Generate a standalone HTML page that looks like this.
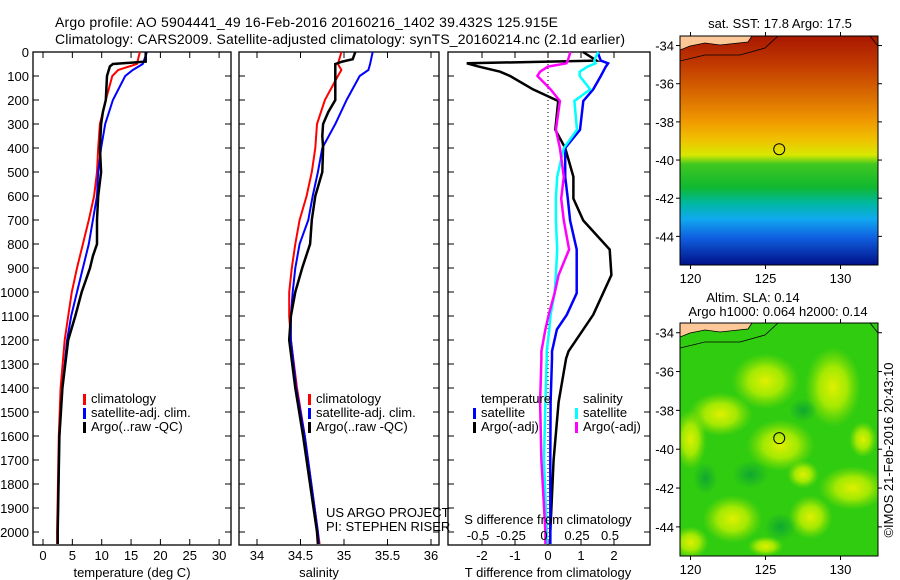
<!DOCTYPE html>
<html><head><meta charset="utf-8"><style>
html,body{margin:0;padding:0;background:#fff;}
svg{display:block;font-family:"Liberation Sans",sans-serif;}
</style></head><body>
<svg id="fig" width="900" height="580" viewBox="0 0 900 580" xmlns="http://www.w3.org/2000/svg">
<defs>
<linearGradient id="sstGrad" x1="0" y1="0" x2="0" y2="1">
<stop offset="0" stop-color="#a81800"/><stop offset="0.12" stop-color="#c03800"/>
<stop offset="0.25" stop-color="#d86800"/><stop offset="0.37" stop-color="#f09800"/>
<stop offset="0.45" stop-color="#f0c000"/><stop offset="0.52" stop-color="#d8e800"/>
<stop offset="0.56" stop-color="#40c820"/><stop offset="0.66" stop-color="#10b830"/>
<stop offset="0.73" stop-color="#00b8a0"/><stop offset="0.8" stop-color="#10a8f0"/>
<stop offset="0.88" stop-color="#1060e0"/><stop offset="1" stop-color="#001088"/>
</linearGradient>
<radialGradient id="yb"><stop offset="0" stop-color="#e0f000"/><stop offset="0.5" stop-color="#b8ee00" stop-opacity="0.85"/><stop offset="1" stop-color="#90e000" stop-opacity="0"/></radialGradient>
<radialGradient id="gb"><stop offset="0" stop-color="#10a830"/><stop offset="1" stop-color="#10a830" stop-opacity="0"/></radialGradient>
</defs>
<text x="55" y="27" font-size="14" textLength="503">Argo profile: AO 5904441_49 16-Feb-2016 20160216_1402 39.432S 125.915E</text>
<text x="55" y="44" font-size="14" textLength="570">Climatology: CARS2009. Satellite-adjusted climatology: synTS_20160214.nc (2.1d earlier)</text>
<g id="panels"></g>
<g id="maps"></g>
</svg>
<script>
// ---- data (depth in dbar) ----
const climDepth = [0,50,75,100,200,300,400,500,600,700,800,900,1000,1100,1200,1400,1600,2000,2050];
const climTemp  = [16.5,16,12.8,11.8,10.7,9.7,9.4,9.2,8.7,7.8,6.8,5.8,4.9,4.3,3.7,3.0,2.7,2.4,2.4];
const satTemp   = [17.7,17,15.3,14,11.9,10.6,9.9,9.4,9.2,8.5,7.8,6.8,5.8,4.8,4.1,3.3,2.8,2.5,2.5];
const argoTDepth = [0,40,50,60,100,200,250,300,400,500,600,700,800,850,900,950,1000,1100,1200,1300,1400,1600,2000,2050];
const argoTemp   = [17.5,17.5,11.9,11.4,10.9,10.7,10.2,9.9,9.7,9.9,9.4,9.2,9.2,8.5,8,7.3,6.6,5.5,4.3,3.8,3.3,2.8,2.5,2.5];
const climSal = [34.97,34.93,34.97,34.93,34.78,34.69,34.67,34.63,34.57,34.49,34.44,34.40,34.37,34.37,34.39,34.46,34.55,34.70,34.72];
const satSal  = [35.33,35.30,35.28,35.18,35.03,34.9,34.75,34.70,34.64,34.59,34.49,34.44,34.41,34.39,34.39,34.45,34.55,34.70,34.71];
const argoSDepth = [0,30,40,50,100,200,250,300,350,400,500,600,700,800,900,1000,1100,1200,1400,1600,2000,2050];
const argoSal    = [35.13,35.10,34.98,34.9,34.9,34.9,34.82,34.76,34.75,34.76,34.75,34.67,34.63,34.61,34.52,34.44,34.39,34.37,34.44,34.53,34.69,34.70];
const diffDepth = [0,36,47,61,82,100,156,204,324,400,520,611,702,823,929,1005,1095,1156,1247,1277,1459,1700,2000,2050];
const diffTArgo = [1.06,1.47,-2.46,-2.1,-1.45,-1.15,-0.45,0.31,0.22,0.52,0.77,0.77,1.07,1.87,1.92,1.67,1.37,1.07,0.62,0.55,0.32,0.17,0.07,0.07];
const diffTSat  = [1.5,1.6,1.82,1.75,1.67,1.6,1.37,1.07,0.97,0.52,0.52,0.6,0.67,0.87,0.87,0.87,0.57,0.27,0.12,0.12,0.08,0.07,0.07,0.07];
const diffSSat  = [0.38,0.35,0.36,0.30,0.24,0.24,0.32,0.20,0.22,0.12,0.07,0.06,0.06,0.07,0.06,0.05,0.02,0.01,-0.01,-0.01,-0.02,-0.03,-0.01,-0.01];
const diffSArgo = [0.17,0.15,0.14,0.0,-0.06,-0.08,0.02,0.09,0.06,0.09,0.12,0.10,0.12,0.16,0.08,0.05,0.005,-0.02,-0.05,-0.05,-0.06,-0.05,-0.02,-0.02];
const depthTicks = [0,100,200,300,400,500,600,700,800,900,1000,1100,1200,1300,1400,1500,1600,1700,1800,1900,2000];
const tempTicks = [0,5,10,15,20,25,30];
const salTicks = [34,34.5,35,35.5,36];
const tdTicks = [-2,-1,0,1,2];
const sdTicks = [-0.5,-0.25,0,0.25,0.5];
const sdTickLabels = ["-0.5","-0.25","0","0.25","0.5"];

const NS="http://www.w3.org/2000/svg";
const P=document.getElementById('panels');
function mk(tag,at,parent){const e=document.createElementNS(NS,tag);for(const k in at)e.setAttribute(k,at[k]);(parent||P).appendChild(e);return e;}
const TOP=52, BOT=545;
const yD = d => TOP + d*0.24;
const xT = t => 43 + t*5.87;
const xS = s => 257 + (s-34)*87;
const xTD = t => 548 + t*33;
const xSD = s => 548 + s*132;

function panel(x0,x1,name){
  const r=mk('rect',{x:x0,y:TOP,width:x1-x0,height:BOT-TOP,fill:'none',stroke:'#000','stroke-width':1.3});
  
  
  depthTicks.forEach(d=>{
    mk('line',{x1:x0,x2:x0+6,y1:yD(d),y2:yD(d),stroke:'#000'});
    mk('line',{x1:x1-6,x2:x1,y1:yD(d),y2:yD(d),stroke:'#000'});
  });
}
function xticks(vals,fx){vals.forEach(v=>{const x=fx(v);mk('line',{x1:x,x2:x,y1:TOP,y2:TOP+6,stroke:'#000'});mk('line',{x1:x,x2:x,y1:BOT-6,y2:BOT,stroke:'#000'});});}
function line(depths,vals,fx,color,w,name){
  let pts=depths.map((d,i)=>fx(vals[i]).toFixed(1)+','+yD(d).toFixed(1)).join(' ');
  const l=mk('polyline',{points:pts,fill:'none',stroke:color,'stroke-width':w});
  
  
}
function txt(x,y,s,sz,anchor,name){const t=mk('text',{x:x,y:y,'font-size':sz,'text-anchor':anchor||'start'});t.textContent=s;
  
  
  return t;}

depthTicks.forEach(d=>{txt(29,yD(d)+5,String(d),13,'end','depth-tick-label');});

panel(33,231,'temperature-panel');
xticks(tempTicks,xT);
tempTicks.forEach(v=>txt(xT(v),560,String(v),13,'middle','temperature-tick-label'));
txt(132,577,'temperature (deg C)',13,'middle','temperature-axis-title');
line(climDepth,climTemp,xT,'#f00',2,'climatology-temp-line');
line(climDepth,satTemp,xT,'#00f',2,'satellite-temp-line');
line(argoTDepth,argoTemp,xT,'#000',2.5,'argo-temp-line');

panel(239,439,'salinity-panel');
xticks(salTicks,xS);
salTicks.forEach(v=>txt(xS(v),560,String(v),13,'middle','salinity-tick-label'));
txt(319,577,'salinity',13,'middle','salinity-axis-title');
line(climDepth,climSal,xS,'#f00',2,'climatology-sal-line');
line(climDepth,satSal,xS,'#00f',2,'satellite-sal-line');
line(argoSDepth,argoSal,xS,'#000',2.5,'argo-sal-line');

function leg(x,y,color,label,name){mk('rect',{x:x,y:y-9,width:3,height:11,fill:color});txt(x+8,y,label,13,'start',name);}
[[33+50,'temperature'],[239+69,'salinity']].forEach(([lx,n])=>{
  leg(lx,403,'#f00','climatology','legend-climatology-'+n);
  leg(lx,417,'#00f','satellite-adj. clim.','legend-satellite-'+n);
  leg(lx,431,'#000','Argo(..raw -QC)','legend-argo-'+n);
});
txt(326,517,'US ARGO PROJECT',13,'start','credit-project');
txt(326,531,'PI: STEPHEN RISER',13,'start','credit-pi');

panel(448,650,'difference-panel');
xticks(tdTicks,xTD);
mk('line',{x1:548,x2:548,y1:TOP,y2:BOT,stroke:'#000','stroke-dasharray':'1,3'});
line(diffDepth,diffTArgo,xTD,'#000',2.5,'argo-temp-diff-line');
line(diffDepth,diffTSat,xTD,'#00f',2.5,'satellite-temp-diff-line');
line(diffDepth,diffSSat,xSD,'#0ff',2.5,'satellite-sal-diff-line');
line(diffDepth,diffSArgo,xSD,'#f0f',2.5,'argo-sal-diff-line');
tdTicks.forEach(v=>txt(xTD(v),560,String(v),13,'middle','tdiff-tick-label'));
txt(548,577,'T difference from climatology',13,'middle','tdiff-axis-title');
sdTicks.forEach((v,i)=>txt(xSD(v)-4,540,sdTickLabels[i],13,'middle','sdiff-tick-label'));
txt(548,524,'S difference from climatology',13,'middle','sdiff-axis-title');
txt(481,403,'temperature',13,'start','legend-temperature-header');
leg(473,417,'#00f','satellite','legend-temp-satellite');
leg(473,431,'#000','Argo(-adj)','legend-temp-argo');
txt(583,403,'salinity',13,'start','legend-salinity-header');
leg(575,417,'#0ff','satellite','legend-sal-satellite');
leg(575,431,'#f0f','Argo(-adj)','legend-sal-argo');

// ---- maps ----
const M=document.getElementById('maps');
const latTicks=[-34,-36,-38,-40,-42,-44];
const lonTicks=[120,125,130];
function map(y0,y1,kind){
  const x0=680,x1=878;
  const lx=l=>x0+(l-119.3)/(132.5-119.3)*(x1-x0);
  const ly=l=>y0+(-33.5-l)/12*(y1-y0);
  const g=mk('g',{},M);
  
  
  const cp=mk('clipPath',{id:'clip-'+kind},g);
  mk('rect',{x:x0,y:y0,width:x1-x0,height:y1-y0},cp);
  const inner=mk('g',{'clip-path':'url(#clip-'+kind+')'},g);
  if(kind==='sst'){
    mk('rect',{x:x0,y:y0,width:x1-x0,height:y1-y0,fill:'url(#sstGrad)'},inner);
  } else {
    mk('rect',{x:x0,y:y0,width:x1-x0,height:y1-y0,fill:'#30cc10'},inner);
    [[125,-36.5,34,28],[129.5,-36.8,28,40],[122,-38.2,32,22],[126,-39.8,34,26],[120,-39.5,16,30],[130.8,-42,34,22],[122.8,-43.6,30,24],[128,-43.5,22,22],[120,-44.8,18,16],[127.5,-41.3,16,14],[131.5,-39.5,14,18],[125,-45,18,10]].forEach(b=>
      mk('ellipse',{cx:lx(b[0]),cy:ly(b[1]),rx:b[2],ry:b[3],fill:'url(#yb)'},inner));
    [[126,-44,16,14],[124,-41.3,18,14],[121,-41.5,12,16],[127.5,-38,14,12]].forEach(b=>mk('ellipse',{cx:lx(b[0]),cy:ly(b[1]),rx:b[2],ry:b[3],fill:'url(#gb)'},inner));
  }
  mk('path',{d:`M${x0},${y0} L${x0+72},${y0} L${x0+68},${y0+6} L${x0+40},${y0+9} L${x0+25},${y0+7} L${x0+10},${y0+10} L${x0},${y0+14} Z`,fill:'#fcc898'},inner);
  mk('path',{d:`M${x0},${y0+14} L${x0+10},${y0+10} L${x0+25},${y0+7} L${x0+40},${y0+9} L${x0+68},${y0+6} L${x0+72},${y0}`,fill:'none',stroke:'#000','stroke-width':0.8},inner);
  mk('path',{d:`M${x0},${y0+25} L${x0+25},${y0+19} L${x0+60},${y0+19} L${x0+85},${y0+12} L${x0+98},${y0}`,fill:'none',stroke:'#000','stroke-width':0.8},inner);
  mk('path',{d:`M${x1-8},${y0} L${x1},${y0+10}`,fill:'none',stroke:'#000','stroke-width':0.8},inner);
  const c=mk('circle',{cx:lx(125.915),cy:ly(-39.432),r:5.5,fill:'none',stroke:'#000','stroke-width':1},g);
  
  
  mk('rect',{x:x0,y:y0,width:x1-x0,height:y1-y0,fill:'none',stroke:'#000','stroke-width':1},g);
  latTicks.forEach(l=>{const y=ly(l);mk('line',{x1:x0-4,x2:x0,y1:y,y2:y,stroke:'#000'},g);mk('line',{x1:x1,x2:x1+4,y1:y,y2:y,stroke:'#000'},g);
    const t=mk('text',{x:x0-6,y:y+5,'font-size':13,'text-anchor':'end'},g);t.textContent=String(l);
    
    });
  lonTicks.forEach(l=>{const x=lx(l);mk('line',{x1:x,x2:x,y1:y0-4,y2:y0,stroke:'#000'},g);mk('line',{x1:x,x2:x,y1:y1,y2:y1+4,stroke:'#000'},g);
    const t=mk('text',{x:x,y:y1+18,'font-size':13,'text-anchor':'middle'},g);t.textContent=String(l);
    
    });
}
map(36,265,'sst');
map(323,556,'sla');
function mt(x,y,s,name,anchor){const t=mk('text',{x:x,y:y,'font-size':13,'text-anchor':anchor||'middle'},M);t.textContent=s;
  
  return t;}
mt(780,28,'sat. SST: 17.8 Argo: 17.5','sst-map-title');
mt(753,302,'Altim. SLA: 0.14','sla-map-title');
mt(778,316,'Argo h1000: 0.064 h2000: 0.14','sla-map-subtitle');
const cr=mt(0,0,'©IMOS 21-Feb-2016 20:43:10','imos-credit','middle');
cr.setAttribute('transform','translate(893,450) rotate(-90)');
</script>
</body></html>
